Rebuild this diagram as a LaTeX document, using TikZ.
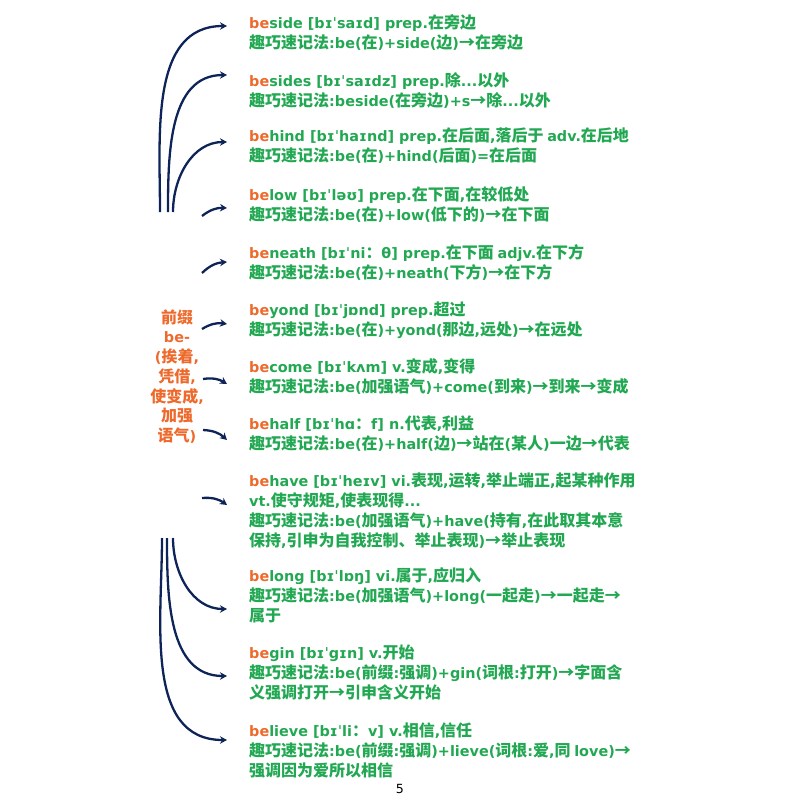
\documentclass[tikz,border=0pt]{standalone}
\usepackage{fontspec}
\setmainfont{DejaVu Sans}[Scale=0.9]
\newfontfamily\cjkf{Noto Sans CJK SC}
\newfontfamily\pgfont{Noto Sans}
\XeTeXinterchartokenstate=1
\newXeTeXintercharclass\cjkcls
\count255="4E00
\loop\XeTeXcharclass\count255=\cjkcls\ifnum\count255<"9FFF\advance\count255 by 1\repeat
\count255="3000
\loop\XeTeXcharclass\count255=\cjkcls\ifnum\count255<"303F\advance\count255 by 1\repeat
\count255="FF00
\loop\XeTeXcharclass\count255=\cjkcls\ifnum\count255<"FFEF\advance\count255 by 1\repeat
\XeTeXcharclass"2192=\cjkcls
\XeTeXinterchartoks 0 \cjkcls = {\cjkf}
\XeTeXinterchartoks 4095 \cjkcls = {\cjkf}
\XeTeXinterchartoks \cjkcls 0 = {\rmfamily}
\XeTeXinterchartoks 4095 0 = {\rmfamily}
\usetikzlibrary{arrows.meta}
\definecolor{wgreen}{HTML}{22A852}
\definecolor{worange}{HTML}{EE6A2C}
\definecolor{wnavy}{HTML}{0E2458}
\newcommand\bepre{\textcolor{worange}{be}}
\newcommand\lstrut{\rule{0pt}{15pt}}
\begin{document}
\begin{tikzpicture}[x=1pt,y=-1pt,
  entrybox/.style={anchor=north west, inner sep=0pt, align=left, text=wgreen,
    font=\fontsize{16}{20}\selectfont\bfseries},
  prefixbox/.style={anchor=north, inner sep=0pt, align=center, text=worange,
    font=\fontsize{16}{19.7}\selectfont\bfseries},
  linkarrow/.style={draw=wnavy, line width=2.3pt, -{Stealth[length=7pt,width=7.5pt]}},
  pagenumbox/.style={inner sep=0pt, font=\pgfont\fontsize{14}{16}\selectfont}]
\useasboundingbox (0,0) rectangle (800,800);

\node[entrybox] (e1) at (249,13) {\lstrut\bepre side [bɪˈsaɪd] prep.在旁边\\趣巧速记法:be(在)+side(边)→在旁边};
\node[entrybox] (e2) at (249,71) {\lstrut\bepre sides [bɪˈsaɪdz] prep.除...以外\\趣巧速记法:beside(在旁边)+s→除...以外};
\node[entrybox] (e3) at (249,126) {\lstrut\bepre hind [bɪˈhaɪnd] prep.在后面,落后于 adv.在后地\\趣巧速记法:be(在)+hind(后面)=在后面};
\node[entrybox] (e4) at (249,185) {\lstrut\bepre low [bɪˈləʊ] prep.在下面,在较低处\\趣巧速记法:be(在)+low(低下的)→在下面};
\node[entrybox] (e5) at (249,243) {\lstrut\bepre neath [bɪˈni：θ] prep.在下面 adjv.在下方\\趣巧速记法:be(在)+neath(下方)→在下方};
\node[entrybox] (e6) at (249,300) {\lstrut\bepre yond [bɪˈjɒnd] prep.超过\\趣巧速记法:be(在)+yond(那边,远处)→在远处};
\node[entrybox] (e7) at (249,357) {\lstrut\bepre come [bɪˈkʌm] v.变成,变得\\趣巧速记法:be(加强语气)+come(到来)→到来→变成};
\node[entrybox] (e8) at (249,414) {\lstrut\bepre half [bɪˈhɑ：f] n.代表,利益\\趣巧速记法:be(在)+half(边)→站在(某人)一边→代表};
\node[entrybox] (e9) at (249,471) {\lstrut\bepre have [bɪˈheɪv] vi.表现,运转,举止端正,起某种作用\\vt.使守规矩,使表现得...\\趣巧速记法:be(加强语气)+have(持有,在此取其本意\\保持,引申为自我控制、举止表现)→举止表现};
\node[entrybox] (e10) at (249,566) {\lstrut\bepre long [bɪˈlɒŋ] vi.属于,应归入\\趣巧速记法:be(加强语气)+long(一起走)→一起走→\\属于};
\node[entrybox] (e11) at (249,643) {\lstrut\bepre gin [bɪˈgɪn] v.开始\\趣巧速记法:be(前缀:强调)+gin(词根:打开)→字面含\\义强调打开→引申含义开始};
\node[entrybox] (e12) at (249,721) {\lstrut\bepre lieve [bɪˈli：v] v.相信,信任\\趣巧速记法:be(前缀:强调)+lieve(词根:爱,同 love)→\\强调因为爱所以相信};

\node[prefixbox] (pre) at (177,308) {\lstrut 前缀\\be-\\(挨着,\\凭借,\\使变成,\\加强\\语气)};

\node[pagenumbox] (pg) at (400,789) {5};

\coordinate (s1) at (160,212); \coordinate (t1) at (227,26);
\coordinate (s2) at (168,212); \coordinate (t2) at (227,75);
\coordinate (s3) at (173,212); \coordinate (t3) at (227,142);
\coordinate (s4) at (202,216); \coordinate (t4) at (227,208);
\coordinate (s5) at (202,273); \coordinate (t5) at (227,262);
\coordinate (s6) at (202,329); \coordinate (t6) at (227,324);
\coordinate (s7) at (203,379); \coordinate (t7) at (227,384);
\coordinate (s8) at (203,430); \coordinate (t8) at (227,440);
\coordinate (s9) at (202,498); \coordinate (t9) at (227,505);
\coordinate (s10) at (173,538); \coordinate (t10) at (227,609);
\coordinate (s11) at (167,538); \coordinate (t11) at (227,676);
\coordinate (s12) at (162,538); \coordinate (t12) at (227,740);

\draw[linkarrow] (s1) to[out=90,in=180] (t1);
\draw[linkarrow] (s2) to[out=90,in=180] (t2);
\draw[linkarrow] (s3) to[out=90,in=180] (t3);
\draw[linkarrow] (s4) to[bend left=20] (t4);
\draw[linkarrow] (s5) to[bend left=20] (t5);
\draw[linkarrow] (s6) to[bend left=20] (t6);
\draw[linkarrow] (s7) to[bend left=20] (t7);
\draw[linkarrow] (s8) to[bend left=20] (t8);
\draw[linkarrow] (s9) to[bend left=20] (t9);
\draw[linkarrow] (s10) to[out=-90,in=180] (t10);
\draw[linkarrow] (s11) to[out=-90,in=180] (t11);
\draw[linkarrow] (s12) to[out=-90,in=180] (t12);
\end{tikzpicture}
\end{document}
